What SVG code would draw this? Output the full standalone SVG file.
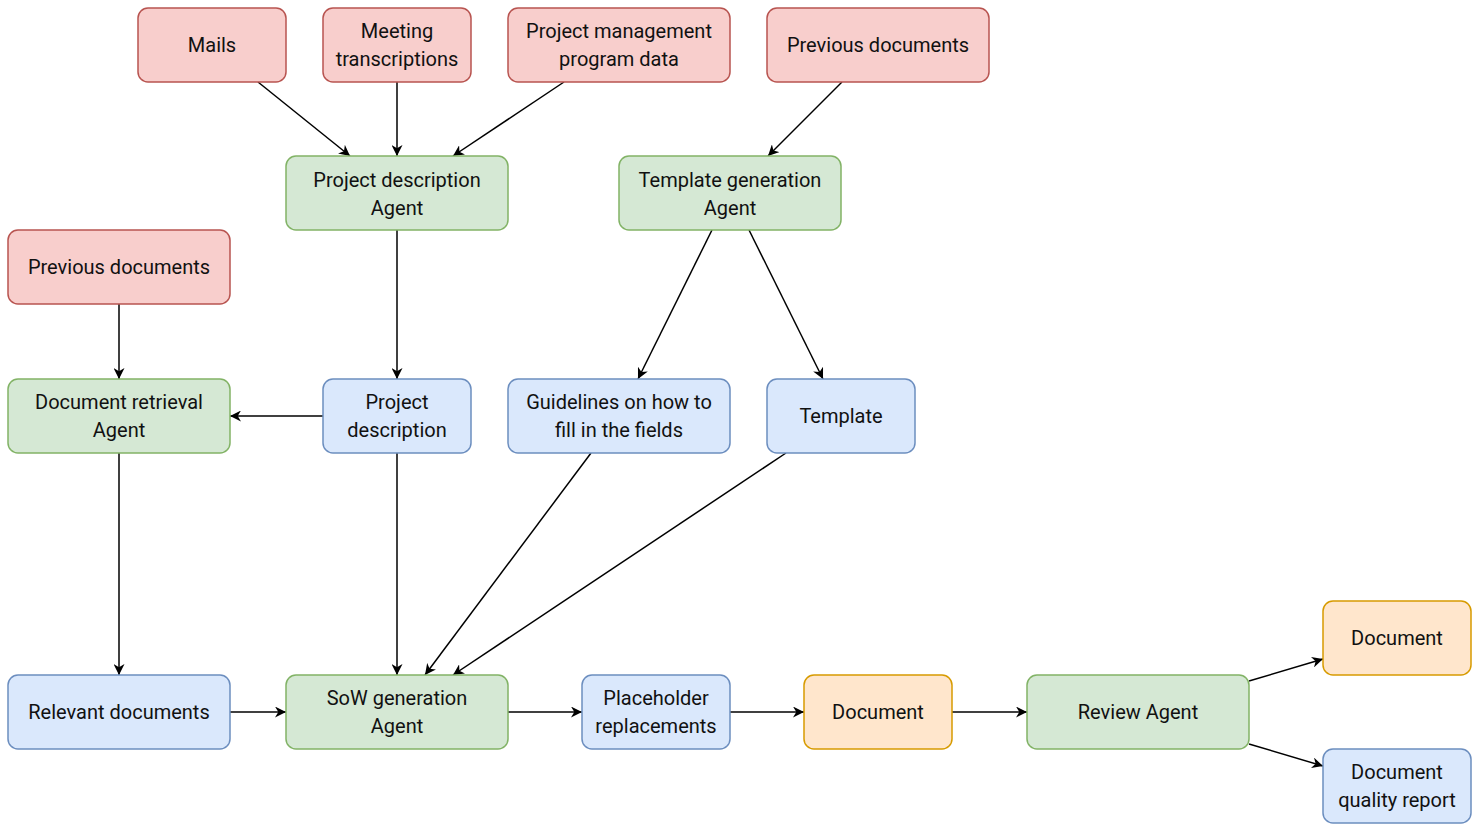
<svg xmlns="http://www.w3.org/2000/svg" width="1480" height="832" viewBox="0 0 1480 832">
<style>
rect{stroke-width:1.5}
.r{fill:#f8cecc;stroke:#b85450}
.g{fill:#d5e8d4;stroke:#82b366}
.b{fill:#dae8fc;stroke:#6c8ebf}
.o{fill:#ffe6cc;stroke:#d79b00}
text{font-family:Roboto,"Liberation Sans",sans-serif;font-size:20px;fill:#111;text-anchor:middle;dominant-baseline:central}
#edges line{stroke:#000;stroke-width:1.5;marker-end:url(#a)}
</style>
<defs><marker id="a" viewBox="0 0 10 10" refX="10" refY="5" markerWidth="11" markerHeight="11" markerUnits="userSpaceOnUse" orient="auto"><path d="M0,0 L10,5 L0,10 L3,5 z" fill="#000"/></marker></defs>
<rect width="1480" height="832" fill="#fff"/>
<g id="edges">
<line x1="258" y1="82" x2="350" y2="156"/>
<line x1="397" y1="82" x2="397" y2="156"/>
<line x1="564" y1="82" x2="453" y2="156"/>
<line x1="842" y1="82" x2="768" y2="156"/>
<line x1="397" y1="230" x2="397" y2="379"/>
<line x1="712" y1="230" x2="638" y2="379"/>
<line x1="749" y1="230" x2="823" y2="379"/>
<line x1="119" y1="304" x2="119" y2="379"/>
<line x1="323" y1="416" x2="230" y2="416"/>
<line x1="119" y1="453" x2="119" y2="675"/>
<line x1="397" y1="453" x2="397" y2="675"/>
<line x1="591" y1="453" x2="425" y2="675"/>
<line x1="786" y1="453" x2="453" y2="675"/>
<line x1="230" y1="712" x2="286" y2="712"/>
<line x1="508" y1="712" x2="582" y2="712"/>
<line x1="730" y1="712" x2="804" y2="712"/>
<line x1="952" y1="712" x2="1027" y2="712"/>
<line x1="1249" y1="681" x2="1323" y2="659"/>
<line x1="1249" y1="744" x2="1323" y2="766"/>
</g>
<g id="mails"><rect class="r" x="138" y="8" width="148" height="74" rx="10"/><text x="212" y="45">Mails</text></g>
<g id="meeting"><rect class="r" x="323" y="8" width="148" height="74" rx="10"/><text x="397" y="31">Meeting</text><text x="397" y="59">transcriptions</text></g>
<g id="pm"><rect class="r" x="508" y="8" width="222" height="74" rx="10"/><text x="619" y="31">Project management</text><text x="619" y="59">program data</text></g>
<g id="prev1"><rect class="r" x="767" y="8" width="222" height="74" rx="10"/><text x="878" y="45">Previous documents</text></g>
<g id="pda"><rect class="g" x="286" y="156" width="222" height="74" rx="10"/><text x="397" y="180">Project description</text><text x="397" y="208">Agent</text></g>
<g id="tga"><rect class="g" x="619" y="156" width="222" height="74" rx="10"/><text x="730" y="180">Template generation</text><text x="730" y="208">Agent</text></g>
<g id="prev2"><rect class="r" x="8" y="230" width="222" height="74" rx="10"/><text x="119" y="267">Previous documents</text></g>
<g id="dra"><rect class="g" x="8" y="379" width="222" height="74" rx="10"/><text x="119" y="402">Document retrieval</text><text x="119" y="430">Agent</text></g>
<g id="pd"><rect class="b" x="323" y="379" width="148" height="74" rx="10"/><text x="397" y="402">Project</text><text x="397" y="430">description</text></g>
<g id="guide"><rect class="b" x="508" y="379" width="222" height="74" rx="10"/><text x="619" y="402">Guidelines on how to</text><text x="619" y="430">fill in the fields</text></g>
<g id="tpl"><rect class="b" x="767" y="379" width="148" height="74" rx="10"/><text x="841" y="416">Template</text></g>
<g id="rel"><rect class="b" x="8" y="675" width="222" height="74" rx="10"/><text x="119" y="712">Relevant documents</text></g>
<g id="sow"><rect class="g" x="286" y="675" width="222" height="74" rx="10"/><text x="397" y="698">SoW generation</text><text x="397" y="726">Agent</text></g>
<g id="ph"><rect class="b" x="582" y="675" width="148" height="74" rx="10"/><text x="656" y="698">Placeholder</text><text x="656" y="726">replacements</text></g>
<g id="doc1"><rect class="o" x="804" y="675" width="148" height="74" rx="10"/><text x="878" y="712">Document</text></g>
<g id="review"><rect class="g" x="1027" y="675" width="222" height="74" rx="10"/><text x="1138" y="712">Review Agent</text></g>
<g id="doc2"><rect class="o" x="1323" y="601" width="148" height="74" rx="10"/><text x="1397" y="638">Document</text></g>
<g id="dqr"><rect class="b" x="1323" y="749" width="148" height="74" rx="10"/><text x="1397" y="772">Document</text><text x="1397" y="800">quality report</text></g>
</svg>
